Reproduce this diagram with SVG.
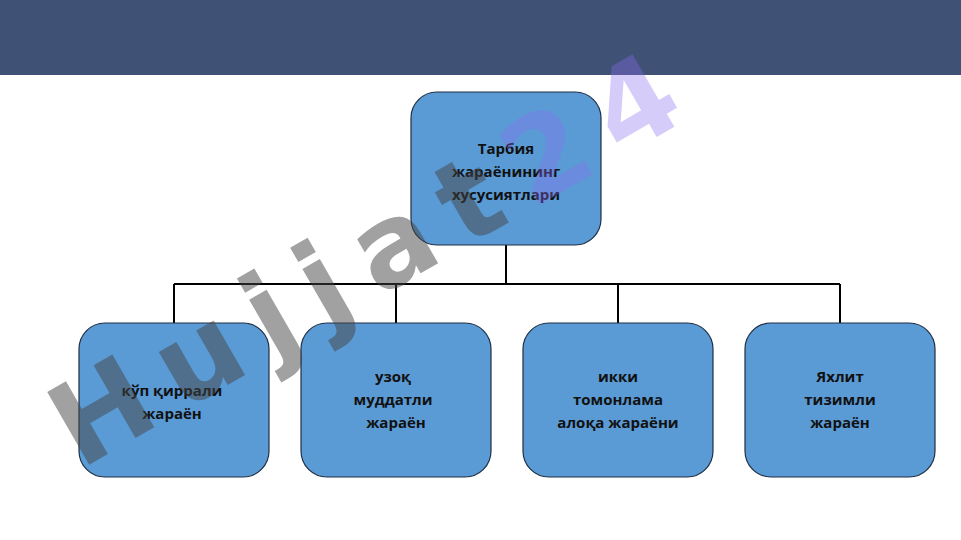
<svg xmlns="http://www.w3.org/2000/svg" width="961" height="540" viewBox="0 0 961 540">
<style>
.n{fill:#5B9BD5;stroke:#1F2F45;stroke-width:1.2}
.t{font-family:"Open Sans","Liberation Sans",sans-serif;font-size:15px;font-weight:bold;fill:#111;text-anchor:middle}
.c{fill:none;stroke:#000;stroke-width:2}
</style>
<rect width="961" height="540" fill="#fff"/>
<rect width="961" height="75" fill="#3F5175"/>
<g id="connectors">
<path class="c" d="M506 245V284M174 284H840M174 284V323M396 284V323M618 284V323M840 284V323"/>
</g>
<g id="root"><rect class="n" x="411" y="92" width="190" height="153" rx="26"/>
<text class="t" x="506" y="154">Тарбия</text><text class="t" x="506" y="177">жараёнининг</text><text class="t" x="506" y="200">хусусиятлари</text></g>
<g id="n1"><rect class="n" x="79" y="323" width="190" height="154" rx="26"/>
<text class="t" x="172" y="396">кўп қиррали</text><text class="t" x="172" y="419">жараён</text></g>
<g id="n2"><rect class="n" x="301" y="323" width="190" height="154" rx="26"/>
<text class="t" x="393" y="382">узоқ</text><text class="t" x="393" y="405">муддатли</text><text class="t" x="396" y="428">жараён</text></g>
<g id="n3"><rect class="n" x="523" y="323" width="190" height="154" rx="26"/>
<text class="t" x="618" y="382">икки</text><text class="t" x="618" y="405">томонлама</text><text class="t" x="618" y="428">алоқа жараёни</text></g>
<g id="n4"><rect class="n" x="745" y="323" width="190" height="154" rx="26"/>
<text class="t" x="840" y="382">Яхлит</text><text class="t" x="840" y="405">тизимли</text><text class="t" x="840" y="428">жараён</text></g>
<g id="watermark" transform="translate(80,470) rotate(-30)" font-family="DejaVu Sans,sans-serif" font-weight="bold" font-size="115" letter-spacing="22">
<text x="0" y="0"><tspan fill="#444" fill-opacity="0.5">Hujjat</tspan><tspan fill="#8A6CF0" fill-opacity="0.35">24</tspan></text>
</g>
</svg>
